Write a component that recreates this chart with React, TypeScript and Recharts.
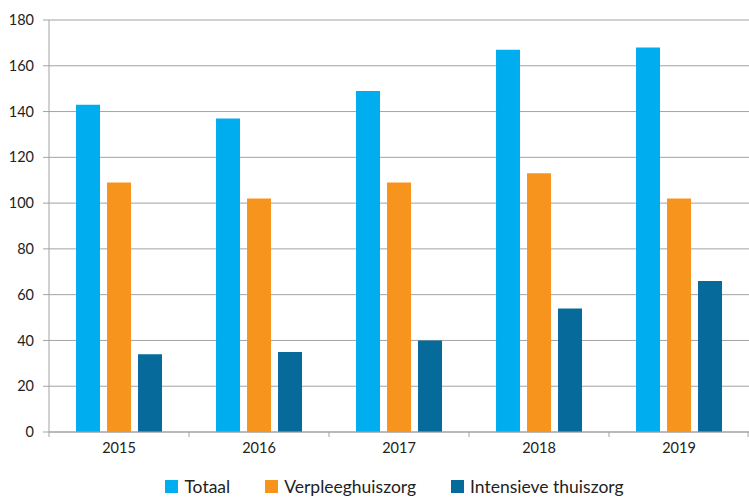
import React from "react";
import { BarChart, Bar, XAxis, YAxis, CartesianGrid, Legend } from "recharts";

const years = ["2015", "2016", "2017", "2018", "2019"];
const totaal = [143, 137, 149, 167, 168];
const verpleeghuiszorg = [109, 102, 109, 113, 102];
const intensieveThuiszorg = [34, 35, 40, 54, 66];
const yTicks = [0, 20, 40, 60, 80, 100, 120, 140, 160, 180];

const series = [
  { key: "totaal", name: "Totaal", color: "#00aeef" },
  { key: "verpleeg", name: "Verpleeghuiszorg", color: "#f7941d" },
  { key: "intensief", name: "Intensieve thuiszorg", color: "#066a9b" },
];

const data = years.map((year, i) => ({
  year,
  totaal: totaal[i],
  verpleeg: verpleeghuiszorg[i],
  intensief: intensieveThuiszorg[i],
}));

const FONT = "Lato, 'Open Sans', sans-serif";
const GRID = "#a3a3a3";

const YearTick = (props: any) => {
  const { x, y, payload, index } = props;
  const half = payload.offset || 70;
  const isLast = index === years.length - 1;
  return (
    <g>
      <line x1={x - half} x2={x - half} y1={y} y2={y + 5} stroke={GRID} />
      {isLast && <line x1={x + half - 1} x2={x + half - 1} y1={y} y2={y + 5} stroke={GRID} />}
      <text x={x} y={y + 21} textAnchor="middle" fill="#222" fontSize={14.5} fontFamily={FONT}>
        {payload.value}
      </text>
    </g>
  );
};

const LegendContent = () => (
  <div style={{ display: "flex", justifyContent: "center", gap: 35, fontFamily: FONT, fontSize: 17.5, color: "#222", marginLeft: 40, paddingTop: 6 }}>
    {series.map((s) => (
      <div key={s.key} style={{ display: "flex", alignItems: "center" }}>
        <span style={{ width: 13, height: 13, background: s.color, display: "inline-block", marginRight: 6 }} />
        {s.name}
      </div>
    ))}
  </div>
);

export default function App() {
  return (
    <div style={{ position: "absolute", left: 0, top: 0, background: "#fff" }}>
      <BarChart
        width={749}
        height={498}
        data={data}
        margin={{ top: 20, right: 0, left: 0, bottom: 0 }}
        barCategoryGap="19.3%"
        barGap={7}
      >
        <CartesianGrid horizontal vertical={false} stroke={GRID} />
        <YAxis
          width={49}
          domain={[0, 180]}
          ticks={yTicks}
          interval={0}
          axisLine={{ stroke: GRID }}
          tickLine={{ stroke: GRID }}
          tickSize={6}
          tickMargin={9}
          tick={{ fill: "#222", fontSize: 14.5, fontFamily: FONT }}
        />
        <XAxis
          dataKey="year"
          height={38}
          axisLine={{ stroke: GRID }}
          tickLine={false}
          tickSize={0}
          tickMargin={0}
          interval={0}
          tick={<YearTick />}
        />
        <Legend verticalAlign="bottom" height={28} content={<LegendContent />} />
        {series.map((s) => (
          <Bar key={s.key} dataKey={s.key} name={s.name} fill={s.color} isAnimationActive={false} />
        ))}
      </BarChart>
    </div>
  );
}
